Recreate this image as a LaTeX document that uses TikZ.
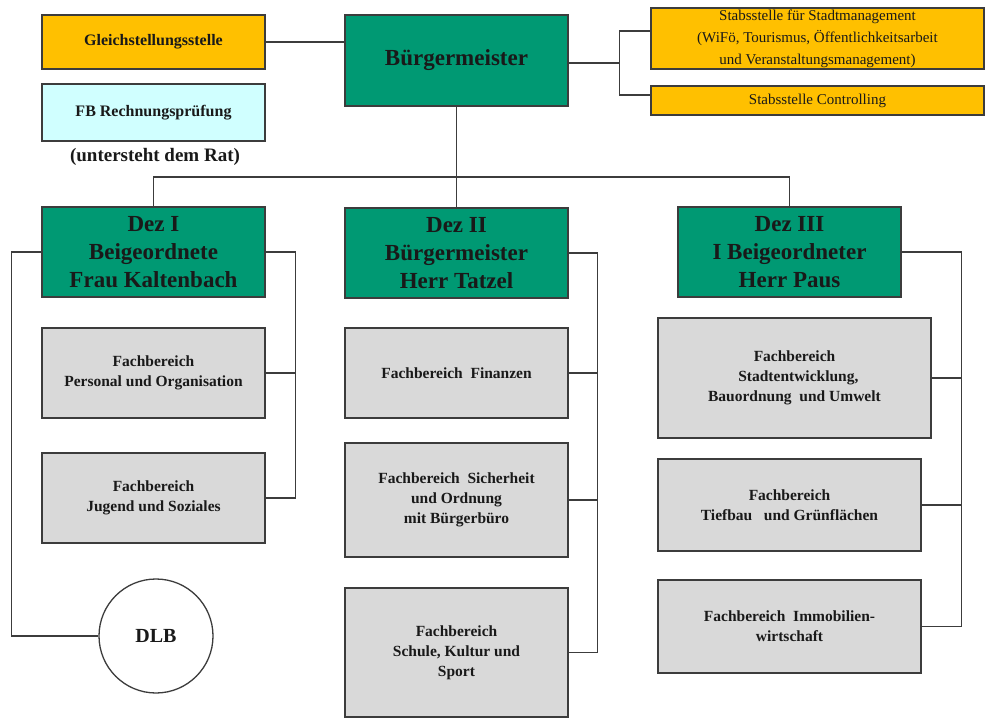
\documentclass[tikz,border=0pt]{standalone}
\usepackage{fontspec}
\setmainfont{Liberation Serif}
\definecolor{orgorange}{RGB}{255,192,0}
\definecolor{orggreen}{RGB}{0,153,115}
\definecolor{orgcyan}{RGB}{208,255,255}
\definecolor{orggrey}{RGB}{217,217,217}
\definecolor{orgline}{RGB}{60,60,60}
\definecolor{orgtext}{RGB}{25,25,25}
\begin{document}
\begin{tikzpicture}[x=1pt,y=-1pt,
  box/.style={draw=orgline,line width=1.3pt,inner sep=0pt,align=center,text=orgtext,font=\bfseries},
  smalltxt/.style={font=\fontsize{15.5}{20}\selectfont\bfseries},
  dezbox/.style={box,fill=orggreen,minimum width=223pt,minimum height=90pt,font=\fontsize{23}{28}\selectfont\bfseries},
  fbbox/.style={box,fill=orggrey,smalltxt},
  stabbox/.style={box,fill=orgorange,minimum width=333pt,font=\fontsize{15}{22}\selectfont},
  conn/.style={draw=orgline,line width=1.2pt}]
\useasboundingbox (0,0) rectangle (985,719);
% top row
\node[box,fill=orgorange,minimum width=223pt,minimum height=54pt,font=\fontsize{16}{20}\selectfont\bfseries] (gleich) at (153.5,42) {Gleichstellungsstelle};
\node[box,fill=orgcyan,minimum width=223pt,minimum height=57pt,font=\fontsize{16}{20}\selectfont\bfseries] (rech) at (153.5,112.5) {FB Rechnungsprüfung};
\node[text=orgtext,inner sep=0pt,font=\fontsize{19}{22}\selectfont\bfseries] (rat) at (155,157) {(untersteht dem Rat)};
\node[box,fill=orggreen,minimum width=223pt,minimum height=91pt,font=\fontsize{23}{28}\selectfont\bfseries] (bm) at (456.5,60.5) {Bürgermeister};
\node[stabbox,minimum height=61pt] (stadt) at (817.5,38.5) {\raisebox{-3pt}{\parbox{333pt}{\centering Stabsstelle für Stadtmanagement\\(WiFö, Tourismus, Öffentlichkeitsarbeit\\und Veranstaltungsmanagement)}}};
\node[stabbox,minimum height=29pt] (contr) at (817.5,100.5) {Stabsstelle Controlling};
% Dezernate
\node[dezbox] (dez1) at (153.5,252) {Dez I\\Beigeordnete\\Frau Kaltenbach};
\node[dezbox] (dez2) at (456.5,253) {Dez II\\Bürgermeister\\Herr Tatzel};
\node[dezbox] (dez3) at (789.5,252) {Dez III\\I Beigeordneter\\Herr Paus};
% Fachbereiche
\node[fbbox,minimum width=223pt,minimum height=90pt] (pers) at (153.5,373) {Fachbereich\\Personal und Organisation};
\node[fbbox,minimum width=223pt,minimum height=90pt] (jug) at (153.5,498) {Fachbereich\\Jugend und Soziales};
\node[box,fill=white,circle,minimum size=114pt,font=\fontsize{20}{24}\selectfont\bfseries] (dlb) at (156,636) {DLB};
\node[fbbox,minimum width=223pt,minimum height=90pt] (fin) at (456.5,373) {Fachbereich\ \ Finanzen};
\node[fbbox,minimum width=223pt,minimum height=114pt] (sich) at (456.5,500) {Fachbereich\ \ Sicherheit\\und Ordnung\\mit Bürgerbüro};
\node[fbbox,minimum width=223pt,minimum height=129pt] (schule) at (456.5,652.5) {Fachbereich\\Schule, Kultur und\\Sport};
\node[fbbox,minimum width=273pt,minimum height=120pt] (stent) at (794.5,378) {Fachbereich\\\ \ Stadtentwicklung,\\Bauordnung\ \ und Umwelt};
\node[fbbox,minimum width=263pt,minimum height=92pt] (tief) at (789.5,505) {Fachbereich\\Tiefbau\ \ \ und Grünflächen};
\node[fbbox,minimum width=263pt,minimum height=93pt] (immo) at (789.5,626.5) {Fachbereich\ \ Immobilien-\\wirtschaft};
% connectors top
\coordinate (sj) at (620,63);
\coordinate (hb) at (457,177);
\draw[conn] (gleich.east) -- (bm.west |- gleich.east);
\draw[conn] (bm.east |- sj) -- (sj);
\draw[conn] ([yshift=7.5pt]stadt.west) -- ++(-31,0) |- ([yshift=5.5pt]contr.west);
\draw[conn] (bm.south) -- (dez2.north);
\draw[conn] (dez1.north) -- (dez1.north |- hb) -- (dez3.north |- hb) -- (dez3.north);
% Dez I
\draw[conn] (dez1.east) -- ++(30,0) |- (jug.east);
\draw[conn] (pers.east) -- ++(30,0);
\draw[conn] (dez1.west) -- ++(-30,0) |- (dlb.west);
% Dez II
\draw[conn] (dez2.east) -- ++(29,0) |- (schule.east);
\draw[conn] (fin.east) -- ++(29,0);
\draw[conn] (sich.east) -- ++(29,0);
% Dez III
\draw[conn] (dez3.east) -- ++(60,0) |- (immo.east);
\draw[conn] (stent.east) -- ++(30,0);
\draw[conn] (tief.east) -- ++(40,0);
\end{tikzpicture}
\end{document}
